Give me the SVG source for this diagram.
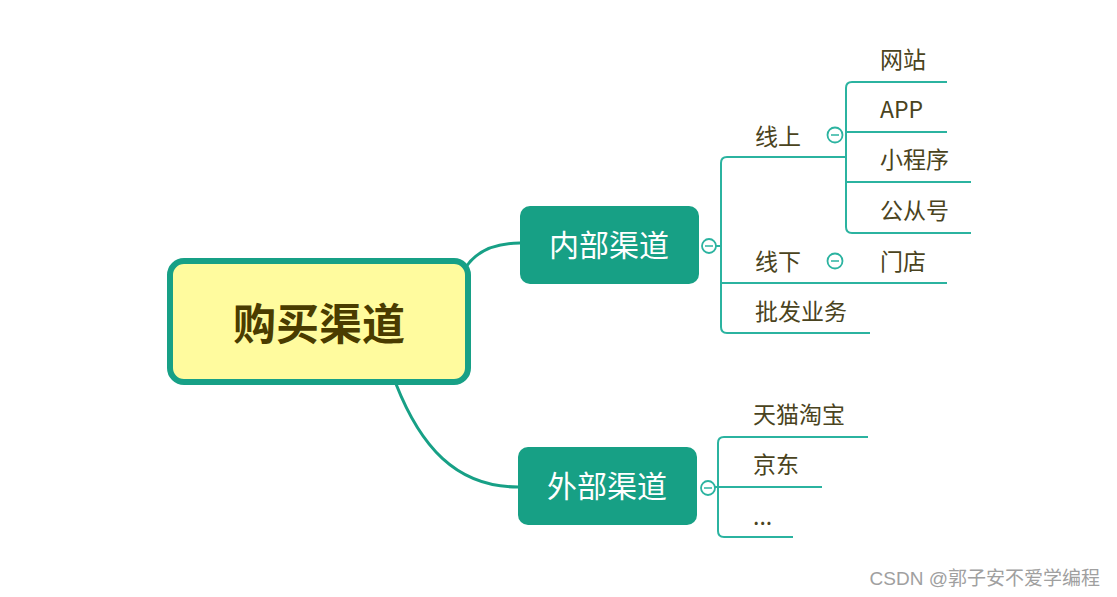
<svg xmlns="http://www.w3.org/2000/svg" width="1117" height="597" viewBox="0 0 1117 597">
<style>
.main{fill:none;stroke:#17a086;stroke-width:3;stroke-linecap:round}
.br{fill:none;stroke:#2bb3a0;stroke-width:2}
.tog{fill:#fff;stroke:#2bb3a0;stroke-width:1.8}
.togm{stroke:#2bb3a0;stroke-width:1.5}
.lbl{font-family:"Noto Sans CJK SC","Noto Sans",sans-serif;font-size:23px;fill:#4a4320}
.sub{font-family:"Noto Sans CJK SC","Noto Sans",sans-serif;font-size:30px;fill:#ffffff;text-anchor:middle}
.subbox{fill:#17a085}
</style>
<rect width="1117" height="597" fill="#ffffff"/>
<g id="connectors">
<path class="main" d="M 466 267 Q 482 243 520 243"/>
<path class="main" d="M 396 384 C 420 445 455 487 518 487"/>
<path class="br" d="M 846 157 H 727 Q 721 157 721 163 V 327 Q 721 333 727 333 H 870"/>
<path class="br" d="M 721 283 H 947"/>
<path class="br" d="M 947 82 H 852 Q 846 82 846 88 V 227 Q 846 233 852 233 H 971"/>
<path class="br" d="M 846 132 H 947"/>
<path class="br" d="M 846 182 H 971"/>
<path class="br" d="M 868 437 H 724 Q 718 437 718 443 V 531 Q 718 537 724 537 H 793"/>
<path class="br" d="M 714 487 H 822"/>
<path class="br" d="M 714 246 H 721"/>
</g>
<g id="root">
<rect x="170" y="261" width="298" height="121" rx="14" fill="#fffb9e" stroke="#17a086" stroke-width="6"/>
<text x="319" y="340" text-anchor="middle" font-family="Noto Sans CJK SC,sans-serif" font-size="43" font-weight="bold" fill="#4a3c00">购买渠道</text>
</g>
<g id="internal">
<rect class="subbox" x="520" y="206" width="179" height="78" rx="10"/>
<text class="sub" x="609" y="256">内部渠道</text>
<circle class="tog" cx="709" cy="246" r="7"/>
<line class="togm" x1="705" y1="246" x2="713" y2="246"/>
</g>
<g id="external">
<rect class="subbox" x="518" y="447" width="179" height="78" rx="10"/>
<text class="sub" x="607" y="497">外部渠道</text>
<circle class="tog" cx="708" cy="488" r="7"/>
<line class="togm" x1="704" y1="488" x2="712" y2="488"/>
</g>
<g id="online">
<text class="lbl" x="755" y="145">线上</text>
<circle class="tog" cx="835" cy="135" r="7.5"/>
<line class="togm" x1="831" y1="135" x2="839" y2="135"/>
</g>
<g id="website"><text class="lbl" x="880" y="68">网站</text></g>
<g id="app"><text class="lbl" x="880" y="118">APP</text></g>
<g id="miniprogram"><text class="lbl" x="880" y="168">小程序</text></g>
<g id="official"><text class="lbl" x="880" y="219">公从号</text></g>
<g id="offline">
<text class="lbl" x="755" y="270">线下</text>
<circle class="tog" cx="835" cy="261" r="7.5"/>
<line class="togm" x1="831" y1="261" x2="839" y2="261"/>
</g>
<g id="store"><text class="lbl" x="880" y="270">门店</text></g>
<g id="wholesale"><text class="lbl" x="755" y="320">批发业务</text></g>
<g id="tmall"><text class="lbl" x="753" y="423">天猫淘宝</text></g>
<g id="jd"><text class="lbl" x="753" y="473">京东</text></g>
<g id="more"><text class="lbl" x="753" y="525">...</text></g>
<text x="1100" y="585" text-anchor="end" font-family="Liberation Sans,Noto Sans CJK SC,sans-serif" font-size="19" fill="#a0a0a0">CSDN @郭子安不爱学编程</text>
</svg>
